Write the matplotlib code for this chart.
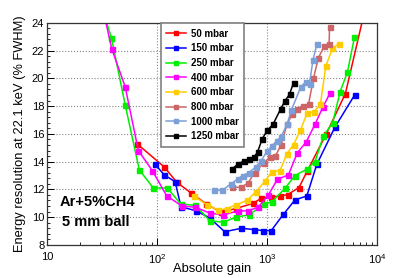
import matplotlib
matplotlib.use('Agg')
import matplotlib.pyplot as plt
from matplotlib.ticker import FixedLocator, FixedFormatter, MultipleLocator, LogLocator, NullFormatter

# --- data (gain, resolution % FWHM) ---
labels = ['50 mbar', '150 mbar', '250 mbar', '400 mbar',
          '600 mbar', '800 mbar', '1000 mbar', '1250 mbar']
colors = ['#ff0000', '#0000ff', '#00f000', '#ff00ff',
          '#ffcc00', '#cc6666', '#7d9fd8', '#000000']

gain_50 = [65.5, 116, 151, 205, 281, 380, 520, 750, 880, 1090, 1310, 1540, 1950, 2310, 3440, 5150, 8000]
res_50 = [15.3, 13.62, 12.52, 11.72, 10.95, 10.36, 10.62, 11.0, 11.35, 11.45, 11.52, 11.63, 12.13, 13.3, 15.97, 18.9, 25.4]

gain_150 = [95, 116, 146, 165, 228, 300, 412, 585, 765, 926, 1090, 1406, 1797, 2296, 2830, 4150, 6250]
res_150 = [13.85, 13.05, 12.55, 10.75, 10.45, 9.95, 8.95, 9.2, 9.1, 9.03, 9.03, 10.2, 11.25, 11.52, 13.8, 16.5, 18.8]

gain_250 = [30, 38.5, 51.3, 69, 92.5, 124, 164, 222, 303, 401, 522, 690, 940, 1110, 1459, 1797, 2296, 2730, 3250, 3950, 4610, 5370, 6220]
res_250 = [25.6, 22.92, 18.1, 13.4, 12.1, 12.1, 10.95, 10.85, 9.73, 9.64, 10.0, 10.17, 10.95, 11.1, 12.09, 13.0, 13.45, 14.0, 15.85, 16.8, 19.04, 20.43, 22.95]

gain_400 = [30, 38.8, 51.3, 67.6, 90.6, 122, 168, 221, 303, 401, 548, 670, 830, 1028, 1242, 1563, 1885, 2263, 2730, 3205, 3740]
res_400 = [26.1, 22.1, 19.4, 14.8, 13.35, 11.55, 10.8, 10.72, 10.29, 10.17, 10.45, 10.45, 10.72, 11.6, 12.73, 13.04, 14.65, 15.4, 16.7, 17.9, 18.95]

gain_600 = [216, 283, 361, 429, 525, 660, 790, 960, 1100, 1310, 1515, 1740, 2010, 2310, 2660, 3050, 3420, 3930, 4490]
res_600 = [11.52, 10.9, 10.5, 10.62, 10.88, 11.22, 11.82, 12.6, 13.25, 13.35, 14.58, 15.23, 16.25, 17.5, 17.58, 18.13, 20.9, 22.15, 22.5]

gain_800 = [480, 580, 670, 770, 930, 1070, 1190, 1340, 1520, 1700, 1880, 2110, 2380, 2640, 2930, 3300, 3660, 3700]
res_800 = [12.15, 12.15, 12.45, 13.2, 13.9, 14.35, 14.4, 15.2, 16.7, 17.45, 17.8, 18.03, 18.13, 20.0, 21.48, 22.3, 22.45, 23.7]

gain_1000 = [330, 392, 470, 540, 600, 680, 785, 880, 1000, 1100, 1220, 1340, 1520, 1660, 2030, 2250, 2430, 2610, 2830]
res_1000 = [11.93, 11.93, 12.4, 12.75, 13.0, 13.2, 13.6, 14.05, 14.75, 15.1, 15.5, 15.8, 16.7, 17.7, 19.4, 19.75, 19.62, 21.3, 22.44]

gain_1250 = [484, 545, 615, 690, 760, 820, 905, 1005, 1135, 1330, 1460, 1600, 1740]
res_1250 = [13.5, 13.82, 14.05, 14.18, 14.3, 14.7, 15.65, 16.25, 16.7, 17.8, 18.4, 18.85, 19.68]

gains = [gain_50, gain_150, gain_250, gain_400, gain_600, gain_800, gain_1000, gain_1250]
resols = [res_50, res_150, res_250, res_400, res_600, res_800, res_1000, res_1250]

x_ticks = [10, 100, 1000, 10000]
x_tick_labels = ['10', '$10^2$', '$10^3$', '$10^4$']

# --- figure ---
plt.rcParams['font.family'] = ['Liberation Sans', 'DejaVu Sans']
plt.rcParams['mathtext.fontset'] = 'custom'
plt.rcParams['mathtext.rm'] = 'Liberation Sans'

fig = plt.figure(figsize=(4.09, 2.78), dpi=100)
ax = fig.add_axes([0.115, 0.119, 0.807, 0.799])

for g, r, c, lab in zip(gains, resols, colors, labels):
    ax.plot(g, r, color=c, lw=1.1, marker='s', ms=3.6, mec=c, label=lab)

ax.set_xscale('log')
ax.set_xlim(10, 10000)
ax.set_ylim(8, 24)

ax.xaxis.set_major_locator(FixedLocator(x_ticks))
ax.xaxis.set_major_formatter(FixedFormatter(x_tick_labels))
ax.xaxis.set_minor_locator(LogLocator(base=10, subs=range(2, 10)))
ax.xaxis.set_minor_formatter(NullFormatter())
ax.yaxis.set_major_locator(MultipleLocator(2))
ax.yaxis.set_minor_locator(MultipleLocator(0.4))

ax.tick_params(which='both', direction='in', top=False, right=False, labelsize=8)
ax.tick_params(axis='x', which='major', pad=5)
ax.tick_params(axis='y', which='major', pad=2)
ax.tick_params(which='major', length=5, width=0.7)
ax.tick_params(which='minor', length=2.5, width=0.6)

ax.grid(True, which='major', linestyle=':', color='#888888', lw=0.8)
for s in ax.spines.values():
    s.set_linewidth(0.9)
    s.set_color('#333333')

ax.set_xlabel('Absolute gain', fontsize=9.3, labelpad=-2)
ax.set_ylabel('Energy resolution at 22.1 keV (% FWHM)', fontsize=9.3, labelpad=4)

leg = ax.legend(loc='upper left', bbox_to_anchor=(0.345, 0.997), borderaxespad=0,
                prop={'weight': 'bold', 'size': 7}, handlelength=2.0, handletextpad=0.5,
                labelspacing=0.48, borderpad=0.55, fancybox=False, framealpha=1,
                markerscale=0.85)
leg.get_frame().set_edgecolor('#808080')
leg.get_frame().set_linewidth(1.2)

ax.text(0.037, 0.195, 'Ar+5%CH4', transform=ax.transAxes, fontsize=10.5,
        fontweight='bold', va='center', ha='left')
ax.text(0.045, 0.105, '5 mm ball', transform=ax.transAxes, fontsize=10.5,
        fontweight='bold', va='center', ha='left')

fig.savefig('out.png', dpi=100)
